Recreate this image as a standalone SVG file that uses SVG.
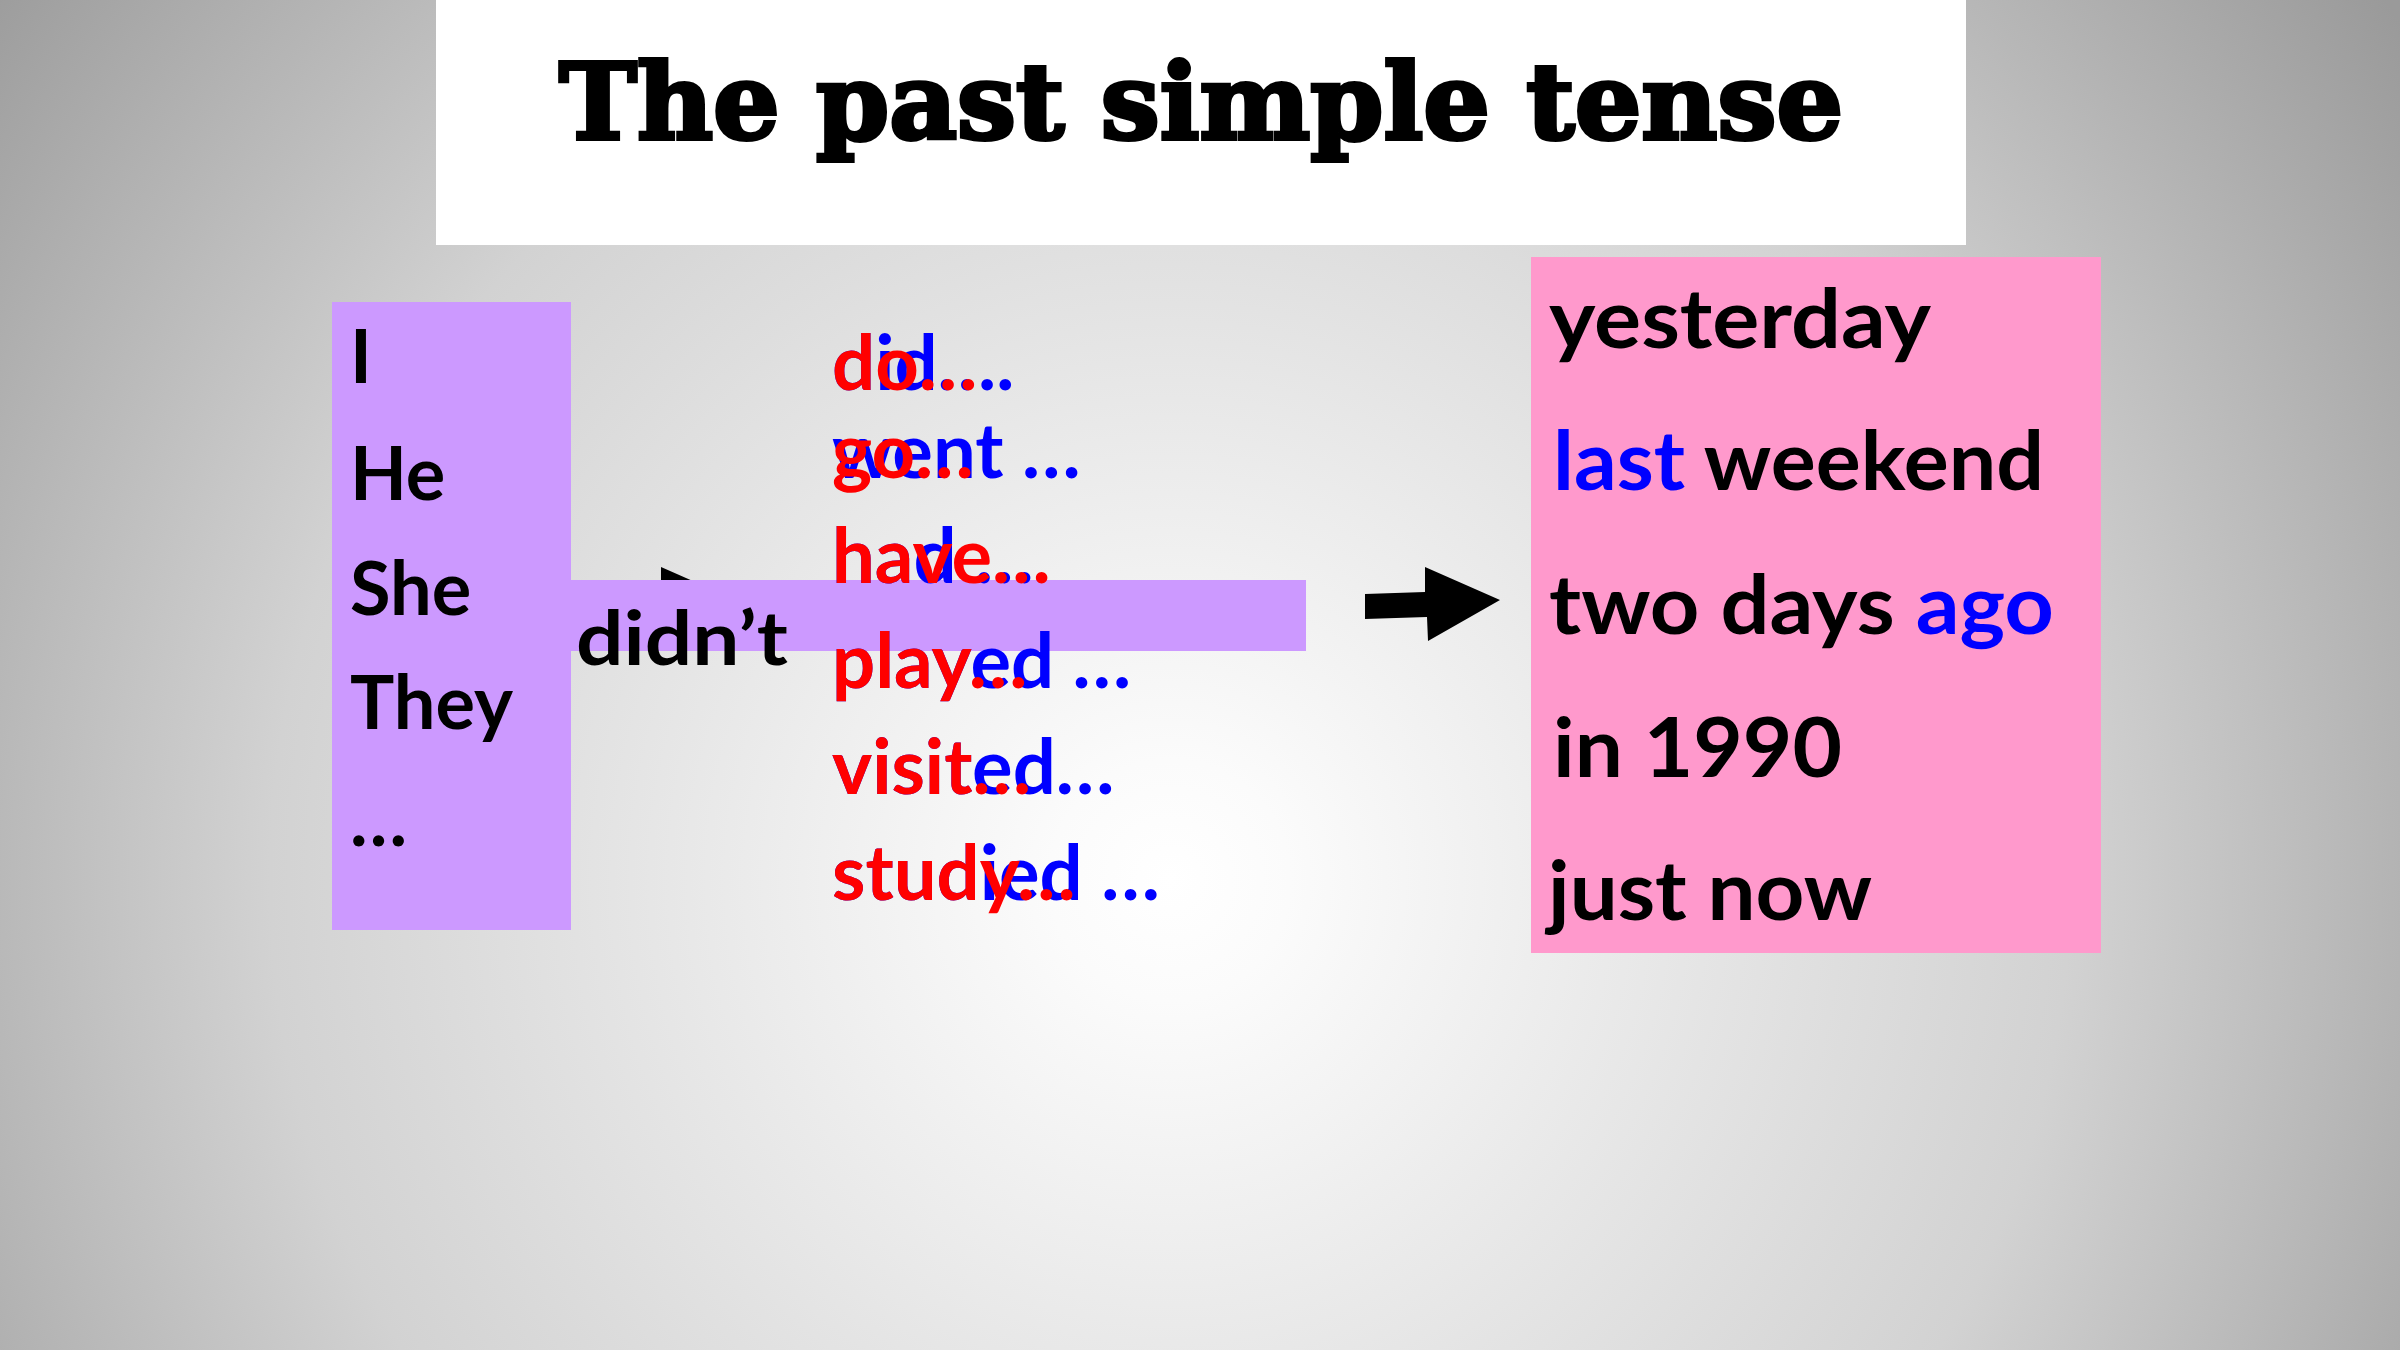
<svg xmlns="http://www.w3.org/2000/svg" width="2400" height="1350" viewBox="0 0 2400 1350">
  <defs>
    <radialGradient id="bg" gradientUnits="userSpaceOnUse" cx="1170" cy="880" r="1500">
      <stop offset="0" stop-color="#ffffff"/>
      <stop offset="0.08" stop-color="#fbfbfb"/>
      <stop offset="0.6" stop-color="#d2d2d2"/>
      <stop offset="1" stop-color="#9a9a9a"/>
    </radialGradient>
    <style>
      .cal { font-family: Lato, "Liberation Sans", sans-serif; font-weight: bold; font-size: 74px; }
      .verb { font-size: 76px; }
      .comic { font-family: "Comic Sans MS", Lato, "Liberation Sans", sans-serif; font-weight: bold; font-size: 82px; fill: #000; }
      .red { fill: #ff0000; }
      .blue { fill: #0000ff; }
      .blk { fill: #000000; }
      .purple { fill: #cc99ff; }
      .pink { fill: #ff99cc; }
    </style>
  </defs>

  <rect x="0" y="0" width="2400" height="1350" fill="url(#bg)"/>

  <g id="title">
    <rect x="436" y="0" width="1530" height="245" fill="#ffffff"/>
    <text x="559" y="139" font-family="'DejaVu Serif', 'Liberation Serif', serif" font-weight="bold" font-size="104" textLength="1284" lengthAdjust="spacingAndGlyphs" fill="#000" stroke="#000" stroke-width="4">The past simple tense</text>
  </g>

  <g id="connectors">
    <polygon class="blk" points="601,594 661,592 661,567 736,600 664,641 663,617 601,619"/>
    <polygon class="blk" points="1365,594 1425,592 1425,567 1500,600 1428,641 1427,617 1365,619"/>
  </g>

  <g id="subjects">
    <rect class="purple" x="332" y="302" width="239" height="628"/>
    <text class="cal blk" x="350" y="383">I</text>
    <text class="cal blk" x="350" y="500">He</text>
    <text class="cal blk" x="350" y="615">She</text>
    <text class="cal blk" x="350" y="729">They</text>
    <text class="cal blk" x="350" y="846">…</text>
  </g>

  <g id="didnt">
    <rect class="purple" x="571" y="580" width="735" height="71"/>
    <text class="cal blk" x="576" y="665" textLength="212" lengthAdjust="spacingAndGlyphs">didn’t</text>
  </g>

  <g id="verbs">
    <text class="cal verb blue" x="832" y="390">did….</text>
    <text class="cal verb red" x="832" y="390">do…</text>
    <text class="cal verb blue" x="832" y="478">went …</text>
    <text class="cal verb red" x="832" y="478">go…</text>
    <text class="cal verb blue" x="832" y="583">had …</text>
    <text class="cal verb red" x="832" y="583">have…</text>
    <text class="cal verb blue" x="832" y="688">played …</text>
    <text class="cal verb red" x="832" y="688">play…</text>
    <text class="cal verb blue" x="832" y="794">visited…</text>
    <text class="cal verb red" x="832" y="794">visit…</text>
    <text class="cal verb blue" x="832" y="900">studied …</text>
    <text class="cal verb red" x="832" y="900">study…</text>
  </g>

  <g id="time-expressions">
    <rect class="pink" x="1531" y="257" width="570" height="696"/>
    <text class="comic" x="1549" y="348" textLength="382" lengthAdjust="spacingAndGlyphs">yesterday</text>
    <text class="comic" x="1553" y="490" textLength="491" lengthAdjust="spacingAndGlyphs"><tspan class="blue">last</tspan> weekend</text>
    <text class="comic" x="1549" y="634" textLength="505" lengthAdjust="spacingAndGlyphs">two days <tspan class="blue">ago</tspan></text>
    <text class="comic" x="1553" y="777" textLength="289" lengthAdjust="spacingAndGlyphs">in 1990</text>
    <text class="comic" x="1548" y="920" textLength="324" lengthAdjust="spacingAndGlyphs">just now</text>
  </g>
</svg>
